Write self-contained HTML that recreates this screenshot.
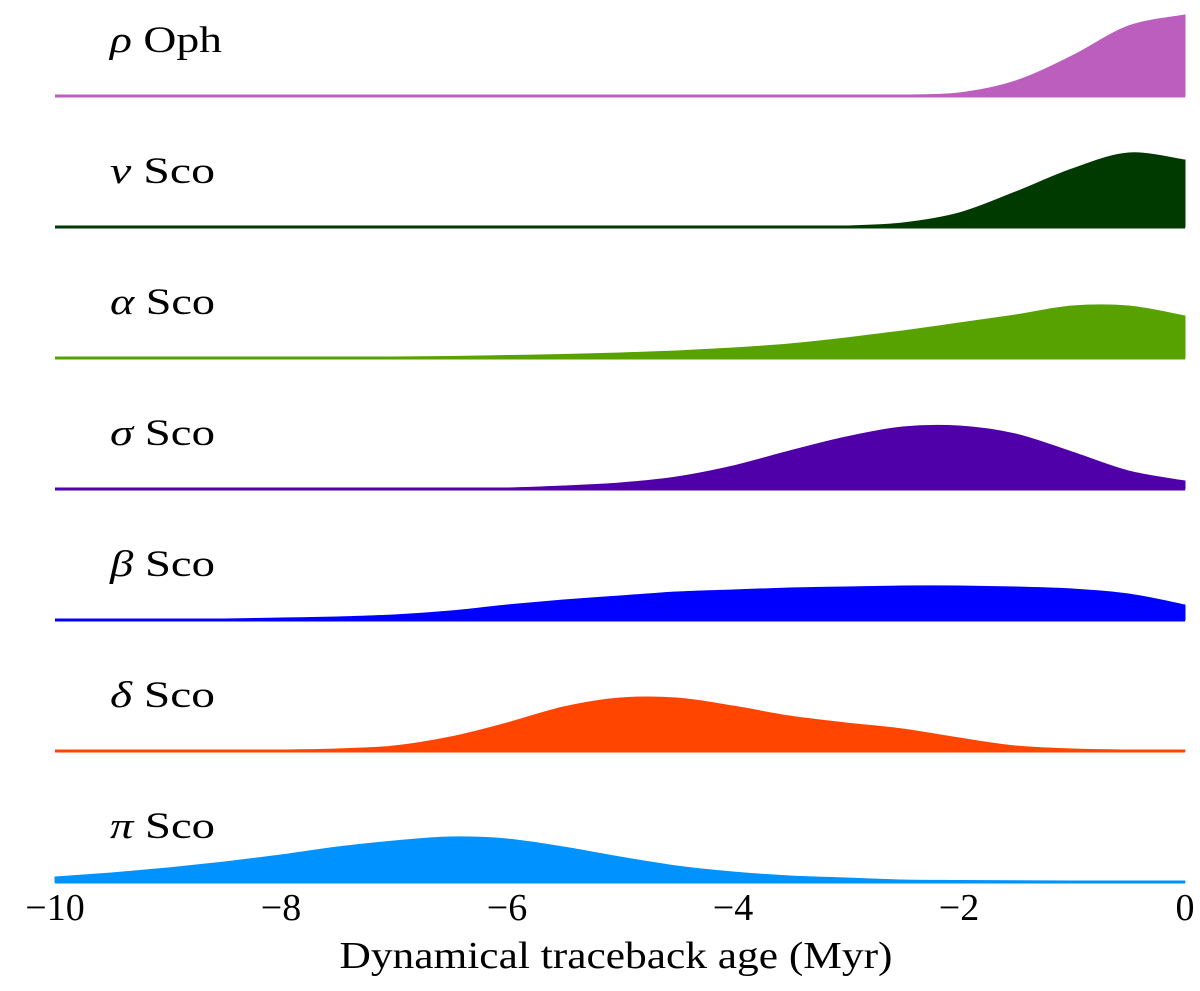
<!DOCTYPE html>
<html><head><meta charset="utf-8"><style>
html,body{margin:0;padding:0;background:#fff;}
svg text{font-family:"Liberation Serif",serif;}
</style></head><body>
<svg id="chart" width="1200" height="986" xmlns="http://www.w3.org/2000/svg"></svg>
<script>
const xs = [-10,-9.5,-9,-8.5,-8,-7.5,-7,-6.5,-6,-5.5,-5,-4.5,-4,-3.5,-3,-2.5,-2,-1.5,-1,-0.5,0];
const greek = ["ρ","ν","α","σ","β","δ","π"];
const suffix = ["Oph","Sco","Sco","Sco","Sco","Sco","Sco"];
const colors = ["#bb5ebe","#003a00","#58a200","#4f00a8","#0000ff","#ff4500","#0092ff"];
const rhoOph = [0,0,0,0,0,0,0,0,0,0,0,0,0,0,0.5,1,3,15,40,70,81];
const nuSco = [0,0,0,0,0,0,0,0,0,0,0,0,0.3,0.5,1,4,14,35,58,74,67];
const alphaSco = [0,0,0,0.2,0.4,0.6,1,1.5,2.5,3.5,5,7,10,14,20,27,35,43,52,52,42];
const sigmaSco = [0,0,0,0,0,0,0,0.5,1,3,6,12,23,38,52,62,63,55,37,18,8];
const betaSco = [0,0,0.5,1,2,3,5,9,15,20,24,28,30,32,33,34,34,33,31,26,15];
const deltaSco = [0,0,0,0.5,1,2,5,14,28,44,53,53,45,35,28,22,13,5,2,1,0.5];
const piSco = [5,9,14,20,27,35,41,45,43,35,25,16,10,6,4,2,1.5,1.2,1,0.7,0.5];
const series = [rhoOph,nuSco,alphaSco,sigmaSco,betaSco,deltaSco,piSco];
const ticks = [-10,-8,-6,-4,-2,0];
const tickLabels = ["−10","−8","−6","−4","−2","0"];

const NS="http://www.w3.org/2000/svg";
const svg=document.getElementById('chart');
const X0=55,X1=1185;
const xScale=v=>X0+(v+10)/10*(X1-X0);
const baseY=i=>96+i*131;
const yScale=(i,v)=>baseY(i)-v;
function mk(t,a){const e=document.createElementNS(NS,t);for(const k in a)e.setAttribute(k,a[k]);svg.appendChild(e);return e;}
function curve(pts,by){
  let d=`M${pts[0][0]},${pts[0][1]}`;
  for(let i=0;i<pts.length-1;i++){
    const p0=pts[Math.max(0,i-1)],p1=pts[i],p2=pts[i+1],p3=pts[Math.min(pts.length-1,i+2)];
    const c1x=p1[0]+(p2[0]-p0[0])/6,c1y=p1[1]+(p2[1]-p0[1])/6;
    const c2x=p2[0]-(p3[0]-p1[0])/6,c2y=p2[1]-(p3[1]-p1[1])/6;
    d+=` C${c1x},${Math.min(c1y,by)} ${c2x},${Math.min(c2y,by)} ${p2[0]},${p2[1]}`;
  }
  return d;
}
series.forEach((vals,i)=>{
  const pts=xs.map((x,j)=>[xScale(x),yScale(i,vals[j])]);
  const d=curve(pts,baseY(i))+` L${xScale(0)},${baseY(i)} L${xScale(-10)},${baseY(i)} Z`;
  const p=mk('path',{d:d,fill:colors[i],stroke:colors[i],'stroke-width':1});
  
  
  const l=mk('line',{x1:xScale(-10),x2:xScale(0),y1:baseY(i),y2:baseY(i),stroke:colors[i],'stroke-width':3});
  
  
  const t=mk('text',{x:110,y:baseY(i)-44,'font-size':37,fill:'#000',textLength:i===0?112:105,lengthAdjust:'spacingAndGlyphs'});
  
  
  t.innerHTML=`<tspan font-style="italic">${greek[i]}</tspan> ${suffix[i]}`;
});
ticks.forEach((v,k)=>{
  const t=mk('text',{x:xScale(v),y:920,'font-size':38,'text-anchor':'middle',fill:'#000'});
  
  
  t.textContent=tickLabels[k];
});
const at=mk('text',{x:616,y:968,'font-size':38,'text-anchor':'middle',fill:'#000',textLength:553,lengthAdjust:'spacingAndGlyphs'});


at.textContent='Dynamical traceback age (Myr)';
</script>
</body></html>
